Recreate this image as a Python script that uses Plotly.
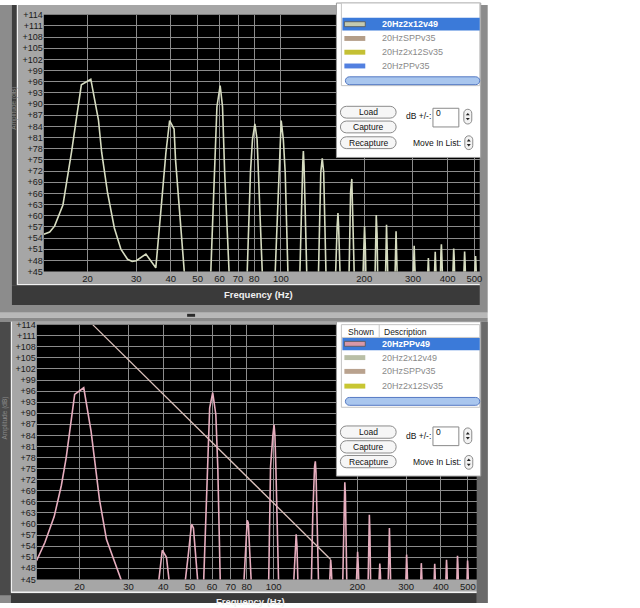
import math
import plotly.graph_objects as go

# ---------------- data ----------------
x_tick_vals = [20, 30, 40, 50, 60, 70, 80, 100, 200, 300, 400, 500]
x_tick_text = ["20", "30", "40", "50", "60", "70", "80", "100", "200", "300", "400", "500"]
y_tick_vals = [45, 48, 51, 54, 57, 60, 63, 66, 69, 72, 75, 78, 81, 84, 87, 90,
               93, 96, 99, 102, 105, 108, 111, 114]
y_tick_text = ["+" + str(v) for v in y_tick_vals]

top_freq = [
    13.9, 14.6, 15.2, 16.3, 17.5, 19.0, 20.55, 21.9, 22.5, 23.6, 25.0, 26.4, 27.9, 29.0, 30.0,
    32.5, 35.3, 35.8, 36.8, 38.4, 39.6, 41.1, 41.6, 44.7, 45.3,
    55.6, 57.6, 58.7, 60.3, 61.5, 62.6, 65.2,
    75.3, 77.6, 78.9, 80.5, 82.0, 82.9, 85.9,
    95.0, 98.2, 99.1, 100.2, 102.0, 103.6, 106.2,
    116.8, 119.9, 120.5, 121.2, 124.2,
    136.4, 139.3, 141.0, 142.7, 145.7,
    157.2, 159.6, 160.7, 161.6, 163.9,
    176.0, 177.5, 178.5, 180.3, 181.5, 182.5, 184.3,
    197.5, 199.5, 200.5, 201.8, 203.0,
    218.5, 219.5, 221.0, 222.5, 223.8,
    238.5, 239.5, 240.7, 241.8, 243.5,
    258.0, 259.5, 260.6, 261.8, 263.5,
    300.0, 302.0, 303.0, 304.0, 306.5,
    338.0, 340.0, 341.0, 342.0, 344.0,
    358.0, 360.0, 361.0, 362.0, 364.5,
    376.5, 378.5, 380.0, 381.5, 384.0,
    417.0, 419.5, 421.0, 422.5, 425.0,
    457.0, 459.5, 461.0, 462.5, 465.0,
    500.5, 503.5, 505.0, 506.5, 509.0,
]
top_db = [
    55.0, 55.6, 57.2, 62.9, 77.0, 95.2, 96.7, 85.8, 77.0, 66.4, 56.7, 51.0, 48.3, 47.7, 47.9,
    49.7, 46.0, 50.5, 61.1, 77.0, 85.6, 83.3, 75.0, 45.3, 42,
    42, 71.7, 89.3, 95.0, 89.3, 71.7, 42,
    42, 71.7, 80.5, 84.7, 80.5, 71.7, 42,
    42, 71.7, 80.5, 85.6, 80.5, 71.7, 42,
    42, 74.0, 77.4, 73.5, 42,
    42, 71.7, 75.4, 71.7, 42,
    42, 57.0, 60.7, 57.0, 42,
    42, 62.0, 66.4, 69.9, 62.0, 53.2, 42,
    42, 52.0, 57.2, 51.4, 42,
    42, 52.7, 60.2, 55.0, 42,
    42, 50.0, 57.6, 52.0, 42,
    42, 52.0, 55.8, 50.0, 42,
    42, 49.0, 51.9, 48.0, 42,
    42, 47.0, 48.6, 46.0, 42,
    42, 48.0, 50.3, 48.0, 42,
    42, 50.0, 52.3, 49.0, 42,
    42, 49.0, 51.2, 49.0, 42,
    42, 48.0, 50.4, 48.0, 42,
    42, 47.0, 49.2, 47.0, 42,
]

bottom_freq = [
    14.0, 15.0, 16.2, 17.2, 17.9, 19.2, 20.7, 22.0, 22.6, 23.6, 25.0, 26.7, 28.2, 28.8,
    38.2, 39.7, 41.1, 42.4,
    47.6, 49.3, 50.6, 51.4, 52.3, 53.6,
    55.8, 57.9, 58.8, 60.3, 61.9, 62.9, 64.3,
    77.8, 79.3, 80.3, 81.0, 83.3,
    95.8, 97.4, 99.3, 100.3, 101.0, 101.8, 104.3,
    117.6, 119.5, 120.5, 121.3, 122.4,
    136.5, 138.2, 140.3, 141.2, 142.0, 143.0, 145.2,
    158.5, 159.8, 160.4, 161.2, 162.5,
    177.0, 178.8, 179.7, 180.3, 181.2, 182.3, 183.5,
    198.0, 199.6, 200.5, 201.5, 203.0,
    218.5, 220.0, 221.0, 222.0, 223.5,
    238.5, 240.0, 241.0, 242.0, 243.5,
    258.0, 259.8, 261.0, 262.2, 264.0,
    298.5, 300.0, 301.0, 302.0, 304.0,
    337.5, 339.0, 340.0, 341.0, 343.0,
    377.5, 379.0, 380.0, 381.0, 383.0,
    416.0, 418.0, 419.0, 420.5, 422.5,
    456.0, 458.0, 459.0, 460.5, 463.0,
    496.0, 498.0, 499.0, 500.5, 503.0,
]
bottom_db = [
    50.1, 55.0, 62.0, 70.5, 78.0, 95.1, 96.9, 85.1, 78.0, 66.5, 55.8, 49.6, 45.0, 42,
    42, 52.9, 51.0, 42,
    42, 52.0, 60.0, 58.9, 52.0, 42,
    42, 75.4, 91.4, 95.6, 89.6, 75.4, 42,
    42, 55.0, 61.0, 60.3, 42,
    42, 75.4, 84.0, 86.9, 84.0, 75.4, 42,
    42, 52.0, 57.2, 54.0, 42,
    42, 62.0, 75.5, 77.0, 74.0, 62.0, 42,
    42, 48.0, 50.3, 48.0, 42,
    42, 60.0, 70.0, 71.3, 68.0, 55.0, 42,
    42, 50.0, 52.5, 49.0, 42,
    42, 55.0, 62.5, 58.0, 42,
    42, 47.0, 49.3, 47.0, 42,
    42, 53.0, 58.9, 53.0, 42,
    42, 49.0, 51.7, 49.0, 42,
    42, 47.0, 49.4, 47.0, 42,
    42, 47.0, 49.2, 47.0, 42,
    42, 48.0, 50.3, 48.0, 42,
    42, 49.0, 51.4, 49.0, 42,
    42, 48.0, 50.1, 48.0, 42,
]

diag_freq = [22.3, 160.4]
diag_db = [114.0, 50.4]

top_list_items = ["20Hz2x12v49", "20HzSPPv35", "20Hz2x12Sv35", "20HzPPv35"]
top_list_colors = ["#c4cab0", "#b49e88", "#c4c034", "#5280e0"]
bottom_list_items = ["20HzPPv49", "20Hz2x12v49", "20HzSPPv35", "20Hz2x12Sv35"]
bottom_list_colors = ["#d898a8", "#b9bfa6", "#b9a28e", "#c8c632"]

# ---------------- helpers (pixel -> paper) ----------------
W, H = 640, 608
FONT = "Liberation Sans"


def px(x):
    return x / W


def py(y):
    return 1 - y / H


shapes = []
annotations = []


def rect(x0, y0, x1, y1, fill, line=None, lw=0, layer="below"):
    shapes.append(dict(type="rect", xref="paper", yref="paper",
                       x0=px(x0), x1=px(x1), y0=py(y1), y1=py(y0),
                       fillcolor=fill, line=dict(color=line or fill, width=lw),
                       layer=layer))


def line(x0, y0, x1, y1, color, lw=1, layer="below"):
    shapes.append(dict(type="line", xref="paper", yref="paper",
                       x0=px(x0), x1=px(x1), y0=py(y0), y1=py(y1),
                       line=dict(color=color, width=lw), layer=layer))


def rrect(x0, y0, x1, y1, r, fill, border, lw=1, layer="above"):
    k = 0.5523 * r
    pts = [
        ("M", [(x0 + r, y0)]),
        ("L", [(x1 - r, y0)]),
        ("C", [(x1 - r + k, y0), (x1, y0 + r - k), (x1, y0 + r)]),
        ("L", [(x1, y1 - r)]),
        ("C", [(x1, y1 - r + k), (x1 - r + k, y1), (x1 - r, y1)]),
        ("L", [(x0 + r, y1)]),
        ("C", [(x0 + r - k, y1), (x0, y1 - r + k), (x0, y1 - r)]),
        ("L", [(x0, y0 + r)]),
        ("C", [(x0, y0 + r - k), (x0 + r - k, y0), (x0 + r, y0)]),
    ]
    path = ""
    for cmd, ps in pts:
        path += cmd + " ".join("%.5f,%.5f" % (px(a), py(b)) for a, b in ps) + " "
    path += "Z"
    shapes.append(dict(type="path", xref="paper", yref="paper", path=path,
                       fillcolor=fill, line=dict(color=border, width=lw), layer=layer))


def tri(cx, cy, up, color="#222"):
    if up:
        p = [(cx - 2, cy + 1.2), (cx + 2, cy + 1.2), (cx, cy - 1.3)]
    else:
        p = [(cx - 2, cy - 1.2), (cx + 2, cy - 1.2), (cx, cy + 1.3)]
    path = "M" + " L".join("%.5f,%.5f" % (px(a), py(b)) for a, b in p) + " Z"
    shapes.append(dict(type="path", xref="paper", yref="paper", path=path,
                       fillcolor=color, line=dict(color=color, width=0), layer="above"))


def text(x, y, s, size=9, color="#111", xanchor="left", angle=0, bold=False):
    if bold:
        s = "<b>" + s + "</b>"
    annotations.append(dict(x=px(x), y=py(y), xref="paper", yref="paper", text=s,
                            showarrow=False, xanchor=xanchor, yanchor="middle",
                            textangle=angle, borderpad=0,
                            font=dict(family=FONT, size=size, color=color)))


# ---------------- window frames (below traces) ----------------
# top window
rect(0, 0, 490, 313, "#8c8c8c")
rect(12, 0, 17, 285, "#3e3e3e")
rect(17, 0, 482, 284, "#a6a6a6")
line(17.5, 0, 17.5, 284.5, "#f2f2f2", 1.2)
line(17, 284.5, 482, 284.5, "#f2f2f2", 1.5)
rect(12, 285, 482, 305, "#3a3a3a")
rect(44, 10, 482, 271, "#000000")
# splitter
rect(0, 313, 490, 318, "#b8b8b8")
rect(0, 318, 490, 322, "#8a8a8a")
rect(188, 314, 196, 317, "#2a2a2a")
# bottom window
rect(0, 322, 490, 608, "#8c8c8c")
rect(0, 322, 11, 600, "#4a4a4a")
rect(11, 322, 479, 597, "#a6a6a6")
line(11.5, 322, 11.5, 597, "#f2f2f2", 1.2)
line(11, 597, 479, 597, "#f2f2f2", 1.5)
rect(11, 598, 479, 608, "#3a3a3a")
rect(479, 322, 490, 608, "#6a6a6a")
rect(37, 325, 479, 584, "#000000")

# y-axis titles (vertical, low contrast)
text(14.5, 105, "Amplitude (dB)", size=6.5, color="#8a8a8a", xanchor="center", angle=-90)
text(5.5, 420, "Amplitude (dB)", size=6.5, color="#8a8a8a", xanchor="center", angle=-90)

# x-axis titles
text(260, 294, "Frequency (Hz)", size=9.5, color="#f0f0f0", xanchor="center", bold=True)
text(252, 606, "Frequency (Hz)", size=9.5, color="#f0f0f0", xanchor="center", bold=True)

# ---------------- legend / control panels (above traces) ----------------
# --- top panel ---
rect(338, -2, 483, 155, "#ffffff", "#9a9a9a", 1, "above")
rect(343, -2, 482, 82, "#ffffff", "#c4c4c4", 1, "above")
rect(344, 13, 482, 26, "#3b7ad9", layer="above")
top_rows_y = [19.5, 34, 48, 62]
for i, (name, col) in enumerate(zip(top_list_items, top_list_colors)):
    yy = top_rows_y[i]
    rect(346, yy - 2.5, 367, yy + 2.5, col, "#555555" if i == 0 else col, 0.8 if i == 0 else 0, "above")
    if i == 0:
        text(383, yy, name, size=9, color="#ffffff", bold=True)
    else:
        text(383, yy, name, size=9, color="#8a8a8a")
rrect(347, 73, 482, 81, 4, "#a9c6ee", "#5479c3", 1)
for y0, lab in zip([103, 118, 134], ["Load", "Capture", "Recapture"]):
    rrect(342, y0, 398, y0 + 12, 6, "#f6f6f6", "#8a8a8a", 1)
    text(370, y0 + 6, lab, size=8.5, color="#111", xanchor="center")
text(420, 113, "dB +/-:", size=8.5, color="#111", xanchor="center")
rect(435, 105, 461, 124, "#ffffff", "#8a8a8a", 1, "above")
text(437, 110, "0", size=8.5, color="#111")
rrect(466, 106, 474, 121, 4, "#f2f2f2", "#8a8a8a", 1)
tri(470, 111, True)
tri(470, 116, False)
text(464, 140, "Move In List:", size=8.5, color="#111", xanchor="right")
rrect(467, 133, 475, 147, 4, "#f2f2f2", "#8a8a8a", 1)
tri(471, 137.5, True)
tri(471, 142.5, False)

# --- bottom panel ---
rect(338, 322, 483, 479, "#ffffff", "#9a9a9a", 1, "above")
rect(343, 325, 482, 409, "#ffffff", "#c4c4c4", 1, "above")
line(343, 338, 482, 338, "#c8c8c8", 1, "above")
line(381, 325, 381, 338, "#c8c8c8", 1, "above")
text(363, 332, "Shown", size=8.5, color="#222", xanchor="center")
text(385, 332, "Description", size=8.5, color="#222")
rect(344, 338.5, 482, 351, "#3b7ad9", layer="above")
bottom_rows_y = [344.5, 358.5, 372.5, 387.5]
for i, (name, col) in enumerate(zip(bottom_list_items, bottom_list_colors)):
    yy = bottom_rows_y[i]
    rect(346, yy - 2.5, 367, yy + 2.5, col, "#555555" if i == 0 else col, 0.8 if i == 0 else 0, "above")
    if i == 0:
        text(383, yy, name, size=9, color="#ffffff", bold=True)
    else:
        text(383, yy, name, size=9, color="#8a8a8a")
rrect(347, 399, 482, 407, 4, "#a9c6ee", "#5479c3", 1)
for y0, lab in zip([428, 443, 458], ["Load", "Capture", "Recapture"]):
    rrect(342, y0, 398, y0 + 12.5, 6, "#f6f6f6", "#8a8a8a", 1)
    text(370, y0 + 6.2, lab, size=8.5, color="#111", xanchor="center")
text(420, 438, "dB +/-:", size=8.5, color="#111", xanchor="center")
rect(435, 429, 461, 448, "#ffffff", "#8a8a8a", 1, "above")
text(437, 434, "0", size=8.5, color="#111")
rrect(466, 430, 474, 446, 4, "#f2f2f2", "#8a8a8a", 1)
tri(470, 435.5, True)
tri(470, 440.5, False)
text(464, 465, "Move In List:", size=8.5, color="#111", xanchor="right")
rrect(467, 458, 475, 472, 4, "#f2f2f2", "#8a8a8a", 1)
tri(471, 462.5, True)
tri(471, 467.5, False)

# ---------------- traces ----------------
fig = go.Figure()
fig.add_trace(go.Scatter(x=top_freq, y=top_db, mode="lines", xaxis="x", yaxis="y",
                         line=dict(color="#d6dcc0", width=1.6), hoverinfo="skip",
                         showlegend=False))
fig.add_trace(go.Scatter(x=diag_freq, y=diag_db, mode="lines", xaxis="x2", yaxis="y2",
                         line=dict(color="#dcc2bc", width=1.3), hoverinfo="skip",
                         showlegend=False))
fig.add_trace(go.Scatter(x=bottom_freq, y=bottom_db, mode="lines", xaxis="x2", yaxis="y2",
                         line=dict(color="#e6adbe", width=1.6), hoverinfo="skip",
                         showlegend=False))

grid = "#8c8c8c"
xcommon = dict(type="log", tickmode="array", tickvals=x_tick_vals, ticktext=x_tick_text,
               showgrid=True, gridcolor=grid, gridwidth=1, zeroline=False, showline=False,
               ticks="", tickfont=dict(family=FONT, size=9.5, color="#1a1a1a"), fixedrange=True)
ycommon = dict(range=[45, 114], tickmode="array", tickvals=y_tick_vals, ticktext=y_tick_text,
               showgrid=True, gridcolor=grid, gridwidth=1, zeroline=False, showline=False,
               ticks="", tickfont=dict(family=FONT, size=9, color="#1a1a1a"), fixedrange=True)

fig.update_layout(
    width=W, height=H, autosize=False,
    margin=dict(l=0, r=0, t=0, b=0),
    paper_bgcolor="#ffffff", plot_bgcolor="rgba(0,0,0,0)",
    showlegend=False,
    xaxis=dict(xcommon, domain=[px(44), px(482)], anchor="y",
               range=[math.log10(13.9), math.log10(522.8)]),
    yaxis=dict(ycommon, domain=[py(271), py(10)], anchor="x"),
    xaxis2=dict(xcommon, domain=[px(37), px(479)], anchor="y2",
                range=[math.log10(14.03), math.log10(538.4)]),
    yaxis2=dict(ycommon, domain=[py(584), py(325)], anchor="x2"),
    shapes=shapes,
    annotations=annotations,
)

# pin the graph to the page's top-left corner (no default body margin)
pin_js = ("document.body.style.margin='0';"
          "var gd=document.getElementById('{plot_id}');"
          "gd.style.position='absolute';gd.style.left='0px';gd.style.top='0px';")

fig.write_html("out.html", config={"responsive": False, "displayModeBar": False},
               post_script=pin_js)
